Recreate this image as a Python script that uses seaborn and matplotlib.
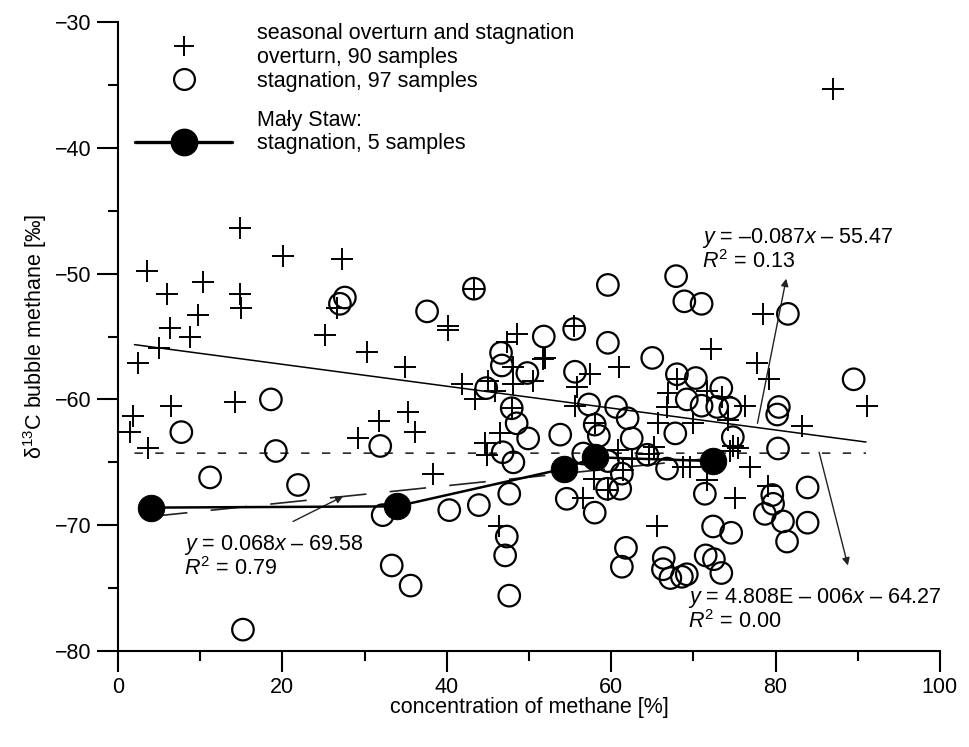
import numpy as np
import pandas as pd
import matplotlib
matplotlib.use("Agg")
import matplotlib.pyplot as plt
from matplotlib.lines import Line2D
import seaborn as sns

# ---------------- data ----------------
overturn_x = [87.0, 14.8, 20.1, 27.3, 3.5, 10.3, 6.0, 14.8, 15.0, 9.7, 6.3, 8.8, 5.0, 2.4,
              25.2, 6.4, 14.2, 1.8, 1.5, 3.6, 26.6, 43.3, 40.1, 40.2, 30.3, 34.9, 48.5,
              47.3, 51.7, 48.1, 50.5, 48.1, 41.8, 45.0, 45.9, 43.4, 47.9, 31.8, 35.3,
              36.1, 29.2, 44.6, 46.5, 44.9, 38.3, 46.4, 55.5, 72.2, 51.9, 61.0, 57.4,
              68.0, 55.8, 66.9, 71.7, 76.3, 55.6, 66.8, 65.7, 70.0, 74.2, 58.0, 74.8,
              75.4, 74.4, 60.8, 64.6, 68.7, 69.6, 76.9, 56.6, 59.6, 61.4, 71.7, 75.1,
              65.6, 78.5, 77.7, 79.2, 91.1, 83.2, 79.1, 62.5, 65.2, 57.9, 73.5]
overturn_y = [-35.3, -46.4, -48.6, -48.8, -49.8, -50.7, -51.6, -51.6, -52.7, -53.3, -54.3,
              -55.0, -55.9, -57.1, -54.9, -60.5, -60.2, -61.3, -62.6, -63.9, -52.7, -51.2,
              -54.2, -54.5, -56.2, -57.4, -54.8, -55.4, -56.8, -57.4, -58.5, -58.8, -58.8,
              -58.5, -59.3, -60.0, -60.7, -61.7, -61.0, -62.6, -63.1, -63.5, -62.7, -64.4,
              -65.9, -70.1, -54.2, -56.0, -56.7, -57.4, -58.0, -58.4, -59.0, -59.5, -59.3,
              -60.5, -60.5, -60.6, -61.9, -61.9, -61.6, -61.9, -63.7, -63.9, -64.1, -64.0,
              -64.3, -65.4, -65.4, -65.4, -67.8, -67.2, -65.6, -66.4, -67.8, -70.1, -53.2,
              -57.1, -58.4, -60.5, -62.1, -66.9, -64.7, -63.8, -66.3, -59.8]

stagnation_x = [27.6, 27.0, 18.6, 7.7, 19.2, 11.2, 21.9, 15.2, 37.6, 43.3, 51.8, 46.6, 46.7,
                49.8, 44.8, 47.9, 48.5, 49.9, 31.9, 46.8, 48.1, 53.8, 32.2, 40.3, 43.9,
                47.6, 47.3, 47.1, 47.6, 33.3, 35.6, 59.6, 67.9, 68.9, 71.0, 55.5, 59.6,
                65.0, 55.6, 68.0, 70.3, 73.4, 69.2, 71.0, 72.9, 74.5, 57.3, 60.6, 62.0,
                67.8, 58.0, 58.5, 62.5, 74.8, 64.4, 56.6, 59.6, 61.3, 66.8, 54.6, 58.0,
                59.5, 61.1, 71.4, 72.4, 74.6, 61.8, 61.3, 66.4, 66.3, 67.2, 68.6, 69.2,
                71.5, 72.5, 73.4, 81.5, 89.5, 80.4, 80.2, 80.3, 83.9, 79.6, 79.7, 78.7,
                80.9, 83.9, 81.4]
stagnation_y = [-51.9, -52.4, -60.0, -62.6, -64.1, -66.2, -66.8, -78.3, -53.0, -51.2, -55.0,
                -56.3, -57.3, -57.9, -59.1, -60.7, -61.9, -63.1, -63.7, -64.2, -65.0, -62.8,
                -69.2, -68.8, -68.4, -67.5, -70.9, -72.4, -75.6, -73.2, -74.8, -50.9, -50.2,
                -52.2, -52.4, -54.4, -55.5, -56.7, -57.8, -58.0, -58.3, -59.1, -60.0, -60.5,
                -60.6, -60.7, -60.4, -60.6, -61.5, -62.7, -62.0, -62.9, -63.1, -63.0, -64.4,
                -64.3, -64.9, -65.9, -65.5, -67.9, -69.0, -67.1, -67.1, -67.5, -70.1, -70.6,
                -71.8, -73.3, -72.6, -73.5, -74.2, -74.1, -73.9, -72.4, -72.7, -73.8, -53.2,
                -58.4, -60.6, -61.2, -63.9, -67.0, -67.6, -68.3, -69.1, -69.7, -69.8, -71.3]

maly_x = [4.0, 33.9, 54.3, 58.0, 72.4]
maly_y = [-68.6, -68.5, -65.5, -64.6, -64.9]

# trend lines: (slope, intercept, x range)
fit_all = (-0.087, -55.47, 2.0, 91.0)
fit_stag = (4.808e-6, -64.27, 2.0, 91.0)
fit_maly = (0.068, -69.58, 4.0, 72.0)

x_ticks = [0, 20, 40, 60, 80, 100]
y_ticks = [-80, -70, -60, -50, -40, -30]

# ---------------- style ----------------
sns.set_theme(style="white")
plt.rcParams['font.family'] = ['Liberation Sans', 'DejaVu Sans']
plt.rcParams['mathtext.fontset'] = 'custom'
plt.rcParams['mathtext.rm'] = 'Liberation Sans'
plt.rcParams['mathtext.it'] = 'Liberation Sans:italic'
plt.rcParams['mathtext.bf'] = 'Liberation Sans:bold'
for key in ['text.color', 'axes.labelcolor', 'xtick.color', 'ytick.color',
            'axes.edgecolor']:
    plt.rcParams[key] = 'black'
FS = 15.5

fig = plt.figure(figsize=(9.69, 7.47), dpi=100)
ax = fig.add_axes([0.1218, 0.1285, 0.8482, 0.842])

df_o = pd.DataFrame({"x": overturn_x, "y": overturn_y})
df_s = pd.DataFrame({"x": stagnation_x, "y": stagnation_y})
df_m = pd.DataFrame({"x": maly_x, "y": maly_y})

def fit_line(fit):
    k, b, x0, x1 = fit
    xs = np.array([x0, x1])
    return xs, k * xs + b

xs, ys = fit_line(fit_all)
ax.plot(xs, ys, color='black', lw=1.1, zorder=2)
xs, ys = fit_line(fit_stag)
ax.plot(xs, ys, color='black', lw=1.0, dashes=(6, 9), zorder=2)
xs, ys = fit_line(fit_maly)
ax.plot(xs, ys, color='#222222', lw=1.2, dashes=(22, 14), zorder=2)

sns.scatterplot(data=df_o, x="x", y="y", marker='+', color='black', s=270,
                linewidth=1.4, ax=ax, zorder=3)
sns.scatterplot(data=df_s, x="x", y="y", marker='o', facecolor='none',
                edgecolor='black', s=240, linewidth=1.6, ax=ax, zorder=3)
sns.lineplot(data=df_m, x="x", y="y", sort=False, color='black', lw=1.8,
             marker='o', markersize=19, markerfacecolor='black',
             markeredgecolor='black', ax=ax, zorder=4)

# annotations
ann_kw = dict(fontsize=FS, ha='left', va='center', linespacing=1.0, color='black')
ax.text(71.0, -48.1, "$y$ = –0.087$x$ – 55.47\n$R^2$ = 0.13", **ann_kw)
ax.text(8.0, -72.5, "$y$ = 0.068$x$ – 69.58\n$R^2$ = 0.79", **ann_kw)
ax.text(69.4, -76.7, "$y$ = 4.808E – 006$x$ – 64.27\n$R^2$ = 0.00", **ann_kw)

arr = dict(arrowstyle='-|>', lw=1.0, color='#222222', mutation_scale=11,
           shrinkA=0, shrinkB=0)
ax.annotate("", xy=(81.3, -50.4), xytext=(77.8, -61.9), arrowprops=arr)
ax.annotate("", xy=(27.4, -67.7), xytext=(21.3, -69.7), arrowprops=arr)
ax.annotate("", xy=(88.8, -73.2), xytext=(85.3, -64.2), arrowprops=arr)

# axes
ax.set_xlim(0, 100)
ax.set_ylim(-80, -30)
ax.set_xticks(x_ticks)
ax.set_yticks(y_ticks)
ax.set_xticks(np.arange(10, 100, 20), minor=True)
ax.set_yticks(np.arange(-75, -30, 10), minor=True)
ax.tick_params(axis='both', which='major', direction='out', length=15, width=1.5,
               labelsize=FS, pad=4, color='black', labelcolor='black',
               bottom=True, left=True)
ax.tick_params(axis='both', which='minor', direction='out', length=7.5, width=1.5,
               color='black', bottom=True, left=True)
for side in ['top', 'right']:
    ax.spines[side].set_visible(False)
for side in ['left', 'bottom']:
    ax.spines[side].set_color('black')
    ax.spines[side].set_linewidth(1.5)
ax.set_xlabel("concentration of methane [%]", fontsize=FS, labelpad=-1, color='black')
ax.set_ylabel("δ$^{13}$C bubble methane [‰]", fontsize=FS, labelpad=4, color='black')

# legend
h_plus = Line2D([], [], marker='+', ls='none', color='black', markersize=15, mew=1.4)
h_circ = Line2D([], [], marker='o', ls='none', mfc='none', mec='black', markersize=15, mew=1.6)
h_blank = Line2D([], [], ls='none')
h_line = Line2D([], [], marker='o', color='black', lw=2.4, markersize=19)
leg_kw = dict(frameon=False, fontsize=FS, handlelength=4.5, handletextpad=1.15,
              borderpad=0, borderaxespad=0, loc='upper left', labelspacing=0.1)
leg1 = ax.legend([h_plus, h_circ],
                 ["seasonal overturn and stagnation\noverturn, 90 samples",
                  "stagnation, 97 samples"],
                 bbox_to_anchor=(0.021, 0.998), **leg_kw)
ax.add_artist(leg1)
leg2 = ax.legend([h_blank, h_line], ["Mały Staw:", "stagnation, 5 samples"],
                 bbox_to_anchor=(0.021, 0.860), **leg_kw)

fig.savefig("out.png", dpi=100)
